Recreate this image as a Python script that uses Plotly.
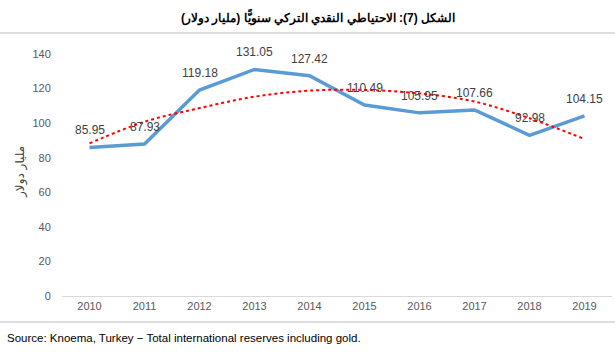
import plotly.graph_objects as go

years = ["2010", "2011", "2012", "2013", "2014", "2015", "2016", "2017", "2018", "2019"]
reserves = [85.95, 87.93, 119.18, 131.05, 127.42, 110.49, 105.95, 107.66, 92.98, 104.15]
trend = [88.3, 100.8, 108.7, 115.3, 118.8, 119.2, 117.2, 112.5, 102.8, 90.8]
labels = ["85.95", "87.93", "119.18", "131.05", "127.42", "110.49", "105.95", "107.66", "92.98", "104.15"]
y_ticks = [0, 20, 40, 60, 80, 100, 120, 140]

title_text = "الشكل (7): الاحتياطي النقدي التركي سنويًّا (مليار دولار)"
y_title = "مليار دولار"
source_text = "Source: Knoema, Turkey \u2212 Total international reserves including gold."

fig = go.Figure()
fig.add_trace(go.Scatter(x=years, y=reserves, mode="lines",
                         line=dict(color="#5B9BD5", width=3.5), hoverinfo="skip"))
fig.add_trace(go.Scatter(x=years, y=trend, mode="lines",
                         line=dict(color="#FF0000", width=2, dash="dot", shape="spline"),
                         hoverinfo="skip"))

for i, (v, lb) in enumerate(zip(reserves, labels)):
    fig.add_annotation(x=i, y=v, text=lb, showarrow=False, yanchor="bottom", yshift=8,
                       font=dict(family="Liberation Sans, Arial", size=12, color="#404040"))

fig.add_annotation(xref="paper", yref="paper", x=(318 - 62) / 550, y=(296 - 17) / 242,
                   text="<b>" + title_text + "</b>", showarrow=False,
                   xanchor="center", yanchor="middle",
                   font=dict(family="Liberation Sans, Arial", size=12, color="#000000"))
fig.add_annotation(xref="paper", yref="paper", x=(20 - 62) / 550, y=(296 - 172) / 242,
                   text=y_title, showarrow=False, textangle=-90,
                   xanchor="center", yanchor="middle",
                   font=dict(family="DejaVu Sans, Arial", size=12, color="#404040"))
fig.add_annotation(xref="paper", yref="paper", x=(5 - 62) / 550, y=(296 - 338) / 242,
                   text=source_text, showarrow=False, xanchor="left", yanchor="middle",
                   font=dict(family="Liberation Sans, Arial", size=11.5, color="#000000"))

for py in (33, 322):
    fig.add_shape(type="line", xref="paper", yref="paper",
                  x0=(0 - 62) / 550, x1=(615 - 62) / 550,
                  y0=(296 - py) / 242, y1=(296 - py) / 242,
                  line=dict(color="#BFBFBF", width=1))

fig.update_layout(
    width=615, height=355,
    margin=dict(l=62, r=3, t=54, b=59),
    paper_bgcolor="white", plot_bgcolor="white",
    showlegend=False,
    xaxis=dict(type="category", range=[-0.5, 9.5], showgrid=False, zeroline=False,
               showline=True, linecolor="#D9D9D9", linewidth=1, ticks="",
               tickfont=dict(family="Liberation Sans, Arial", size=11, color="#595959")),
    yaxis=dict(range=[0, 140], tickvals=y_ticks, showgrid=False, zeroline=False,
               showline=False, ticks="outside", ticklen=8, tickcolor="white",
               tickfont=dict(family="Liberation Sans, Arial", size=11, color="#595959")),
)

fig.write_html("out.html", config={"displayModeBar": False},
               post_script="document.body.style.margin='0';document.body.style.padding='0';")
